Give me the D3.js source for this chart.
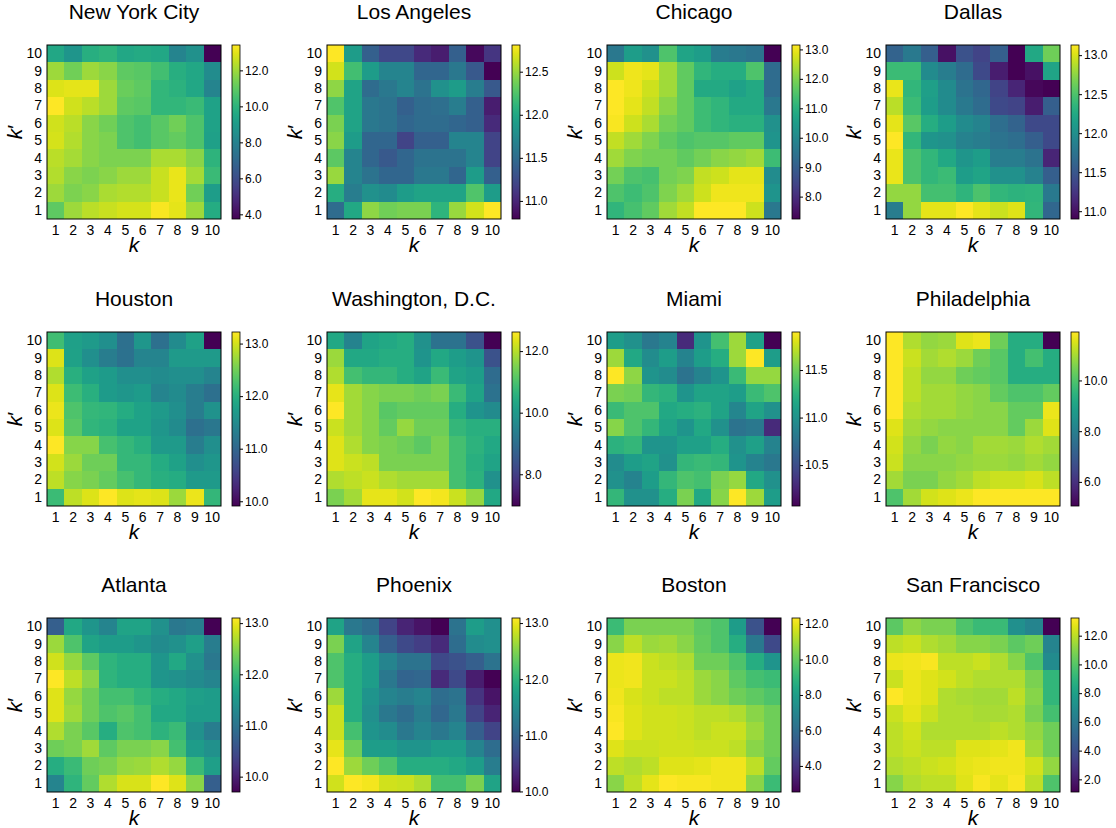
<!DOCTYPE html>
<html>
<head>
<meta charset="utf-8">
<script src="https://cdn.jsdelivr.net/npm/d3@7"></script>
<style>
  body { margin: 0; background: #fff; }
  text { font-family: "Liberation Sans", Arial, sans-serif; fill: #000; }
</style>
</head>
<body>
<div id="chart"></div>
<script>
/* CONSTANTS */
const width = 1116,
  height = 828,
  cellSize = 174,
  colLeft = [47, 327, 607, 886],
  rowTop = [45, 332, 618];

/* DATA */
const ks = [1, 2, 3, 4, 5, 6, 7, 8, 9, 10];
const cities = ["New York City", "Los Angeles", "Chicago", "Dallas",
  "Houston", "Washington, D.C.", "Miami", "Philadelphia",
  "Atlanta", "Phoenix", "Boston", "San Francisco"];

// each grid: rows from k'=10 (top) down to k'=1, columns k=1..10
const nyc = [
  [9.5, 8.8, 9.8, 10.0, 9.5, 9.6, 9.5, 8.1, 8.6, 3.74],
  [12.0, 11.3, 12.0, 11.7, 11.0, 10.9, 10.5, 9.8, 9.5, 8.4],
  [12.9, 13.0, 13.0, 12.0, 11.2, 11.0, 10.1, 9.9, 9.5, 8.1],
  [13.41, 12.7, 12.4, 12.0, 11.0, 10.9, 10.1, 10.1, 10.3, 9.3],
  [12.7, 12.4, 11.7, 11.3, 10.7, 10.5, 10.9, 11.3, 10.7, 9.3],
  [12.8, 12.3, 11.7, 11.5, 10.7, 10.5, 10.9, 11.1, 10.7, 9.2],
  [12.4, 12.1, 11.7, 11.5, 11.5, 11.5, 12.2, 12.2, 11.7, 10.0],
  [12.3, 11.7, 11.5, 11.7, 12.0, 12.0, 12.6, 13.1, 12.1, 10.3],
  [12.0, 11.5, 11.7, 12.2, 12.3, 12.3, 12.6, 13.1, 11.3, 9.1],
  [11.0, 12.0, 12.4, 12.6, 12.8, 12.8, 13.3, 13.0, 12.0, 9.7]
];
const la = [
  [12.81, 11.9, 11.4, 11.23, 11.23, 11.03, 10.95, 11.4, 10.83, 11.1],
  [12.67, 12.2, 11.9, 11.7, 11.7, 11.45, 11.45, 11.6, 11.35, 10.79],
  [12.47, 11.96, 11.5, 11.6, 11.7, 11.56, 11.8, 11.9, 11.64, 11.35],
  [12.25, 11.96, 11.6, 11.56, 11.4, 11.5, 11.52, 11.64, 11.4, 10.95],
  [12.4, 11.96, 11.6, 11.56, 11.45, 11.5, 11.5, 11.45, 11.4, 11.03],
  [12.45, 11.9, 11.45, 11.45, 11.2, 11.4, 11.4, 11.7, 11.7, 11.2],
  [12.3, 11.7, 11.45, 11.35, 11.45, 11.56, 11.56, 11.56, 11.7, 11.2],
  [12.5, 11.7, 11.56, 11.45, 11.45, 11.6, 11.6, 11.45, 11.9, 11.4],
  [12.05, 11.64, 11.8, 11.76, 11.9, 11.96, 11.96, 11.96, 12.25, 11.9],
  [11.5, 12.0, 12.47, 12.37, 12.4, 12.4, 12.1, 12.5, 12.67, 12.81]
];
const chicago = [
  [9.6, 10.5, 10.2, 11.5, 10.7, 10.5, 9.7, 9.6, 9.5, 7.24],
  [12.7, 13.0, 12.9, 12.3, 11.7, 11.1, 10.9, 10.9, 11.5, 9.3],
  [13.15, 13.0, 12.7, 12.3, 11.7, 10.8, 10.8, 10.6, 10.8, 9.3],
  [13.15, 12.9, 12.6, 12.1, 11.7, 11.3, 11.1, 10.8, 10.8, 9.6],
  [13.1, 12.7, 12.4, 11.9, 11.7, 11.3, 11.1, 11.0, 11.0, 10.2],
  [12.6, 12.3, 12.0, 11.7, 11.5, 11.6, 11.6, 11.7, 11.7, 10.3],
  [12.3, 12.0, 11.9, 11.9, 11.7, 11.9, 12.1, 12.2, 12.3, 11.3],
  [11.9, 11.5, 11.4, 11.9, 12.0, 12.6, 12.7, 12.9, 12.9, 10.1],
  [11.5, 11.3, 11.5, 12.0, 12.3, 12.7, 13.0, 13.0, 13.0, 10.3],
  [11.1, 11.4, 11.7, 12.3, 12.6, 13.15, 13.15, 13.15, 12.7, 9.6]
];
const dallas = [
  [11.6, 11.8, 11.57, 11.0, 11.46, 11.35, 11.57, 10.9, 12.24, 12.64],
  [12.42, 12.42, 11.97, 11.84, 11.68, 11.39, 11.08, 10.9, 11.0, 12.2],
  [13.06, 12.37, 12.15, 11.97, 11.75, 11.64, 11.35, 11.13, 10.94, 10.9],
  [12.9, 12.42, 12.13, 11.97, 11.8, 11.68, 11.39, 11.35, 11.08, 11.57],
  [13.04, 12.55, 12.28, 12.13, 11.97, 11.9, 11.7, 11.6, 11.39, 11.39],
  [13.13, 12.37, 12.06, 12.02, 11.88, 11.84, 11.75, 11.7, 11.57, 11.39],
  [13.06, 12.5, 12.37, 12.24, 12.06, 12.13, 11.84, 11.84, 11.75, 11.13],
  [13.06, 12.5, 12.37, 12.42, 12.13, 12.2, 12.02, 12.02, 11.88, 11.57],
  [12.77, 12.77, 12.46, 12.46, 12.35, 12.5, 12.37, 12.33, 12.35, 11.8],
  [11.84, 12.77, 13.04, 13.04, 13.13, 13.04, 12.95, 13.02, 12.37, 11.64]
];
const houston = [
  [12.2, 11.78, 11.7, 11.55, 11.12, 11.65, 11.12, 11.5, 11.8, 9.91],
  [13.05, 11.8, 11.55, 11.3, 11.15, 11.4, 11.4, 11.7, 11.7, 11.7],
  [12.82, 12.0, 11.8, 11.72, 11.55, 11.55, 11.5, 11.55, 11.55, 11.4],
  [13.05, 12.18, 12.0, 11.72, 11.65, 11.72, 11.4, 11.5, 11.3, 11.12],
  [13.12, 12.3, 12.12, 12.08, 11.95, 11.82, 11.7, 11.55, 11.3, 11.58],
  [13.05, 12.36, 12.08, 12.02, 11.82, 11.82, 11.65, 11.5, 11.12, 11.22],
  [13.22, 12.62, 12.62, 12.25, 12.12, 12.0, 11.7, 11.7, 11.3, 11.55],
  [12.99, 12.72, 12.49, 12.49, 12.12, 12.12, 11.95, 11.8, 11.55, 11.65],
  [12.89, 12.62, 12.56, 12.43, 12.25, 12.12, 12.0, 11.95, 11.7, 11.7],
  [12.16, 12.89, 13.05, 13.22, 13.05, 13.09, 13.05, 12.72, 13.12, 12.1]
];
const washington = [
  [10.36, 9.5, 10.25, 10.36, 10.47, 9.8, 9.1, 9.1, 8.4, 6.97],
  [11.77, 10.36, 10.36, 10.47, 10.47, 9.9, 10.36, 10.1, 9.9, 8.4],
  [11.94, 10.93, 10.7, 10.7, 10.47, 10.25, 10.8, 10.25, 10.1, 8.95],
  [12.4, 11.83, 11.6, 11.49, 11.49, 11.38, 11.49, 10.8, 10.25, 9.1],
  [12.62, 11.83, 11.6, 11.15, 11.26, 11.26, 11.26, 10.47, 9.9, 9.68],
  [12.17, 11.83, 11.6, 11.26, 11.72, 11.38, 11.38, 10.7, 10.53, 10.53],
  [12.34, 11.94, 11.6, 11.49, 11.38, 11.2, 11.49, 10.93, 10.59, 10.36],
  [12.34, 12.17, 12.06, 11.49, 11.49, 11.49, 11.49, 10.93, 10.53, 10.25],
  [11.94, 12.06, 12.17, 11.94, 11.83, 11.83, 11.83, 10.93, 10.59, 9.8],
  [11.49, 11.83, 12.4, 12.4, 12.23, 12.62, 12.51, 12.17, 11.72, 10.36]
];
const miami = [
  [11.08, 10.99, 10.8, 10.89, 10.29, 11.02, 11.35, 11.63, 11.11, 10.07],
  [11.63, 11.17, 10.95, 11.08, 10.89, 11.08, 11.2, 11.63, 11.9, 11.08],
  [11.9, 11.59, 11.02, 10.95, 10.77, 10.89, 11.02, 11.31, 11.61, 11.61],
  [11.53, 11.5, 11.28, 11.24, 11.02, 11.13, 11.13, 11.08, 11.31, 11.39],
  [11.31, 11.39, 11.39, 11.17, 11.2, 11.24, 11.13, 10.91, 11.13, 10.99],
  [11.57, 11.39, 11.28, 11.13, 11.02, 11.17, 10.99, 10.77, 10.8, 10.29],
  [11.24, 11.28, 11.02, 11.02, 11.1, 11.1, 11.2, 10.99, 11.1, 10.89],
  [10.95, 11.08, 11.13, 10.99, 11.28, 11.31, 11.28, 11.02, 10.89, 10.8],
  [10.99, 10.89, 11.08, 11.28, 11.39, 11.35, 11.53, 11.61, 11.17, 10.99],
  [11.28, 10.99, 10.99, 11.2, 11.53, 11.17, 11.57, 11.9, 11.63, 11.08]
];
const philadelphia = [
  [11.91, 11.09, 10.81, 10.88, 11.57, 11.7, 10.4, 9.3, 9.3, 5.05],
  [11.91, 11.36, 10.95, 11.09, 10.88, 10.4, 10.13, 9.3, 9.85, 9.3],
  [11.91, 11.22, 10.81, 10.81, 10.4, 10.26, 10.13, 9.3, 9.3, 9.3],
  [11.91, 11.22, 10.95, 10.95, 10.81, 10.68, 10.26, 9.99, 9.99, 10.26],
  [11.91, 11.09, 10.95, 10.95, 10.81, 10.68, 10.68, 10.26, 10.26, 11.7],
  [11.57, 10.95, 10.81, 10.68, 10.68, 10.68, 10.68, 10.26, 10.88, 11.57],
  [11.43, 10.81, 10.54, 10.81, 10.68, 10.95, 10.95, 10.88, 11.09, 10.95],
  [11.36, 10.68, 10.68, 10.68, 10.81, 10.88, 10.88, 10.81, 10.95, 10.81],
  [10.95, 10.54, 10.54, 10.81, 10.95, 11.22, 11.36, 11.36, 11.5, 11.22],
  [9.99, 10.95, 11.43, 11.57, 11.7, 11.91, 11.91, 11.91, 11.91, 11.91]
];
const atlanta = [
  [10.72, 11.74, 11.47, 11.23, 11.67, 11.67, 11.4, 11.06, 11.13, 9.7],
  [12.59, 12.15, 11.67, 11.57, 11.57, 11.47, 11.33, 11.4, 11.6, 11.13],
  [12.86, 12.56, 12.25, 11.91, 11.81, 11.81, 11.47, 11.74, 11.4, 11.06],
  [13.1, 12.76, 12.49, 11.91, 11.81, 11.81, 11.47, 11.4, 11.33, 11.23],
  [12.93, 12.56, 12.35, 12.08, 12.08, 11.94, 11.81, 11.74, 11.6, 11.57],
  [12.93, 12.62, 12.35, 12.15, 12.22, 12.08, 11.74, 11.74, 11.57, 11.57],
  [12.69, 12.42, 12.22, 11.81, 12.15, 12.08, 11.88, 12.01, 11.4, 11.13],
  [12.35, 12.42, 12.62, 12.25, 12.42, 12.42, 12.49, 12.08, 11.57, 11.4],
  [11.81, 12.01, 12.35, 12.42, 12.56, 12.59, 12.69, 12.56, 12.01, 11.6],
  [11.23, 11.91, 12.28, 12.69, 12.9, 12.9, 13.1, 12.93, 12.49, 10.72]
];
const phoenix = [
  [11.79, 11.23, 11.08, 10.61, 10.3, 10.15, 9.99, 11.17, 11.7, 11.54],
  [12.47, 11.79, 11.39, 10.92, 10.67, 10.55, 10.36, 11.08, 11.48, 11.54],
  [12.22, 11.91, 11.7, 11.39, 11.17, 11.17, 10.67, 10.77, 10.92, 11.17],
  [12.22, 11.91, 11.7, 11.23, 10.98, 11.01, 10.36, 10.67, 10.24, 9.99],
  [12.63, 11.91, 11.6, 11.39, 11.29, 11.39, 11.08, 11.17, 10.46, 10.15],
  [12.84, 11.91, 11.54, 11.23, 11.08, 11.29, 11.01, 11.23, 10.61, 10.3],
  [12.84, 12.16, 11.6, 11.48, 11.23, 11.39, 11.23, 11.39, 10.92, 10.61],
  [12.97, 12.41, 11.7, 11.7, 11.6, 11.6, 11.7, 11.7, 11.39, 11.08],
  [13.09, 12.63, 12.41, 12.22, 11.91, 11.91, 11.91, 11.85, 11.7, 11.29],
  [12.87, 13.09, 13.03, 12.87, 12.84, 12.72, 12.16, 12.16, 12.47, 11.79]
];
const boston = [
  [9.2, 10.38, 10.38, 10.38, 10.38, 9.9, 9.6, 7.9, 5.0, 2.53],
  [10.6, 11.36, 10.87, 10.97, 10.6, 9.99, 9.6, 8.6, 6.45, 4.7],
  [12.04, 12.14, 11.56, 11.36, 11.16, 10.18, 10.18, 9.6, 8.6, 7.6],
  [12.04, 12.14, 11.56, 11.56, 11.36, 10.87, 10.6, 9.9, 9.4, 9.2],
  [12.14, 11.75, 11.56, 11.36, 11.36, 10.87, 10.6, 10.18, 9.9, 9.6],
  [12.24, 11.85, 11.65, 11.65, 11.56, 11.36, 11.36, 11.16, 10.6, 10.18],
  [12.34, 11.85, 11.65, 11.65, 11.56, 11.36, 11.56, 11.56, 10.87, 10.18],
  [11.85, 11.56, 11.56, 11.65, 11.65, 11.56, 11.56, 11.36, 10.6, 10.18],
  [11.36, 11.16, 11.36, 11.85, 11.85, 11.95, 12.14, 12.14, 11.36, 9.99],
  [10.6, 11.36, 11.95, 12.34, 12.24, 12.24, 12.14, 12.14, 10.6, 9.2]
];
const sanFrancisco = [
  [10.2, 11.17, 10.81, 10.81, 9.84, 9.35, 9.35, 7.17, 6.57, 1.12],
  [12.02, 12.26, 11.78, 11.53, 11.05, 11.05, 10.81, 10.2, 10.56, 6.57],
  [12.87, 12.99, 13.11, 12.02, 12.02, 12.26, 11.78, 11.05, 9.84, 6.93],
  [12.26, 12.87, 12.62, 12.38, 12.02, 11.78, 11.78, 11.78, 10.81, 9.11],
  [13.23, 12.87, 12.62, 11.78, 11.66, 11.53, 11.53, 12.02, 11.05, 9.11],
  [12.26, 12.75, 12.26, 11.78, 11.78, 11.66, 11.66, 11.78, 10.81, 9.6],
  [12.02, 12.38, 11.78, 11.78, 11.78, 11.78, 12.02, 11.78, 11.29, 10.56],
  [12.02, 12.26, 12.02, 12.02, 12.62, 12.62, 12.75, 12.99, 11.53, 10.56],
  [11.78, 12.02, 12.26, 12.38, 12.75, 12.87, 12.99, 12.99, 12.38, 11.29],
  [11.05, 11.78, 12.02, 12.02, 12.62, 13.11, 12.75, 13.11, 12.02, 9.84]
];
const grids = [nyc, la, chicago, dallas, houston, washington, miami, philadelphia,
  atlanta, phoenix, boston, sanFrancisco];

// colorbar tick labels per city
const cbTicks = [
  [4, 6, 8, 10, 12],
  [11.0, 11.5, 12.0, 12.5],
  [8, 9, 10, 11, 12, 13],
  [11.0, 11.5, 12.0, 12.5, 13.0],
  [10, 11, 12, 13],
  [8, 10, 12],
  [10.5, 11.0, 11.5],
  [6, 8, 10],
  [10, 11, 12, 13],
  [10, 11, 12, 13],
  [4, 6, 8, 10, 12],
  [2, 4, 6, 8, 10, 12]
];

/* DRAW */
const svg = d3.select("#chart")
  .append("svg")
  .attr("width", width)
  .attr("height", height);

const defs = svg.append("defs");

cities.forEach((city, i) => {
  const left = colLeft[i % 4],
    top = rowTop[Math.floor(i / 4)],
    grid = grids[i];

  const cells = [];
  grid.forEach((row, r) => row.forEach((v, c) => {
    cells.push({ kx: ks[c], ky: ks[ks.length - 1 - r], v: v });
  }));

  const xScale = d3.scaleBand().domain(ks).range([0, cellSize]);
  const yScale = d3.scaleBand().domain(ks).range([cellSize, 0]);
  const extent = d3.extent(cells, d => d.v);
  const color = d3.scaleSequential(d3.interpolateViridis).domain(extent);

  const g = svg.append("g").attr("transform", `translate(${left},${top})`);

  // title
  g.append("text")
    .attr("x", cellSize / 2)
    .attr("y", -26)
    .attr("text-anchor", "middle")
    .attr("font-size", 21)
    .text(city);

  // cells
  g.selectAll("rect.cell")
    .data(cells)
    .join("rect")
    .attr("class", "cell")
    .attr("x", d => xScale(d.kx))
    .attr("y", d => yScale(d.ky))
    .attr("width", xScale.bandwidth())
    .attr("height", yScale.bandwidth())
    .attr("shape-rendering", "crispEdges")
    .attr("fill", d => color(d.v));

  g.append("rect")
    .attr("width", cellSize)
    .attr("height", cellSize)
    .attr("fill", "none")
    .attr("stroke", "#000")
    .attr("stroke-width", 1);

  // axes
  const xAxis = g.append("g")
    .attr("transform", `translate(0,${cellSize})`)
    .call(d3.axisBottom(xScale).tickSize(0).tickPadding(6));
  const yAxis = g.append("g")
    .call(d3.axisLeft(yScale).tickSize(0).tickPadding(5));
  [xAxis, yAxis].forEach(a => {
    a.select(".domain").remove();
    a.selectAll("text")
      .attr("font-family", "'Liberation Sans', Arial, sans-serif")
      .attr("font-size", 14)
      .attr("fill", "#000");
  });

  g.append("text")
    .attr("x", cellSize / 2)
    .attr("y", cellSize + 33)
    .attr("text-anchor", "middle")
    .attr("font-size", 21)
    .attr("font-family", "'DejaVu Sans', sans-serif")
    .attr("font-style", "italic")
    .text("k");

  const yl = g.append("text")
    .attr("transform", `translate(-25,${cellSize / 2}) rotate(-90)`)
    .attr("text-anchor", "middle")
    .attr("font-size", 21)
    .attr("font-family", "'DejaVu Sans', sans-serif");
  yl.append("tspan").attr("font-style", "italic").text("k");
  yl.append("tspan").text("′");

  // colorbar
  const cbX = cellSize + 11, cbW = 8;
  const gradId = "grad" + i;
  const grad = defs.append("linearGradient")
    .attr("id", gradId)
    .attr("x1", 0).attr("y1", 1).attr("x2", 0).attr("y2", 0);
  d3.range(0, 1.0001, 0.05).forEach(t => {
    grad.append("stop")
      .attr("offset", t)
      .attr("stop-color", d3.interpolateViridis(t));
  });

  const cbScale = d3.scaleLinear().domain(extent).range([cellSize, 0]);
  const cb = g.append("g").attr("transform", `translate(${cbX},0)`);
  cb.append("rect")
    .attr("width", cbW)
    .attr("height", cellSize)
    .attr("fill", `url(#${gradId})`)
    .attr("stroke", "#000")
    .attr("stroke-width", 0.8);

  const cbAxis = cb.append("g")
    .attr("transform", `translate(${cbW},0)`)
    .call(d3.axisRight(cbScale)
      .tickValues(cbTicks[i])
      .tickFormat(d3.format(".1f"))
      .tickSize(3)
      .tickPadding(2));
  cbAxis.select(".domain").remove();
  cbAxis.selectAll("line").attr("stroke", "#000");
  cbAxis.selectAll("text")
    .attr("font-family", "'Liberation Sans', Arial, sans-serif")
    .attr("font-size", 12)
    .attr("fill", "#000");
});
</script>
</body>
</html>
